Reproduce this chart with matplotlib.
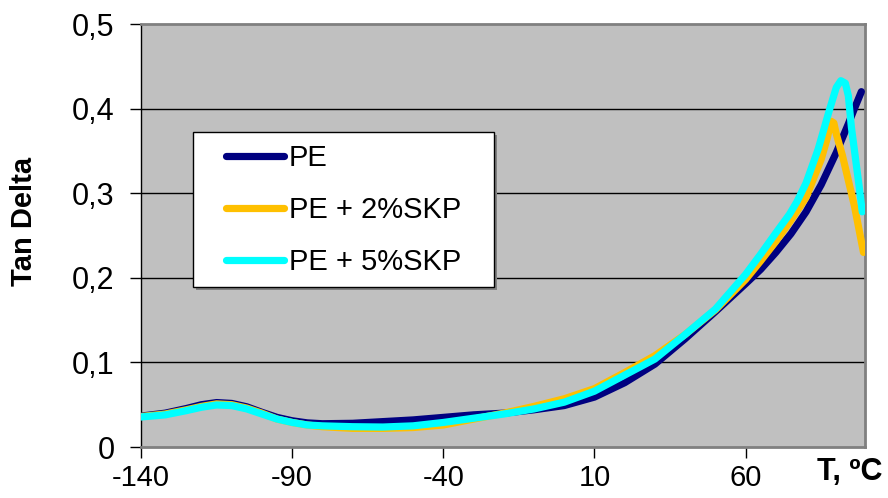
import matplotlib as mpl
mpl.use('Agg')
import matplotlib.pyplot as plt
from matplotlib.patches import Rectangle

plt.rcParams['font.family'] = ['Liberation Sans', 'DejaVu Sans']

# Tan Delta vs temperature
t_pe = [-140, -132, -125, -120, -115, -110, -105, -100, -95, -90, -85, -80, -70, -60,
        -50, -40, -30, -20, -10, 0, 10, 20, 30, 40, 50, 60, 65, 70, 75, 80, 85, 90, 94,
        96, 98.3]
pe = [0.0365, 0.040, 0.0455, 0.050, 0.0525, 0.0515, 0.0475, 0.041, 0.035, 0.031, 0.0285,
      0.0275, 0.028, 0.030, 0.032, 0.035, 0.038, 0.040, 0.044, 0.049, 0.059, 0.076, 0.098,
      0.128, 0.160, 0.193, 0.210, 0.230, 0.252, 0.278, 0.310, 0.348, 0.382, 0.400, 0.420]

t_2 = [-140, -132, -125, -120, -115, -110, -105, -100, -95, -90, -85, -80, -70, -60,
       -50, -40, -30, -20, -10, 0, 10, 20, 30, 40, 50, 60, 65, 70, 75, 80, 85, 87, 88.3,
       89.2, 90, 92, 94, 96, 99]
skp2 = [0.036, 0.039, 0.044, 0.048, 0.051, 0.050, 0.046, 0.040, 0.033, 0.029, 0.026,
        0.024, 0.022, 0.022, 0.023, 0.026, 0.033, 0.040, 0.048, 0.057, 0.069, 0.088,
        0.108, 0.133, 0.162, 0.198, 0.220, 0.243, 0.268, 0.295, 0.340, 0.365, 0.385,
        0.383, 0.370, 0.345, 0.315, 0.285, 0.230]

t_5 = [-140, -132, -125, -120, -115, -110, -105, -100, -95, -90, -85, -80, -70, -60,
       -50, -40, -30, -20, -10, 0, 10, 20, 30, 40, 50, 60, 65, 70, 74.5, 77, 80, 84,
       87.7, 90, 91.5, 93, 94, 95, 97.6, 98.6]
skp5 = [0.0355, 0.038, 0.043, 0.047, 0.0497, 0.049, 0.045, 0.039, 0.033, 0.029, 0.026,
        0.025, 0.024, 0.0236, 0.025, 0.029, 0.034, 0.039, 0.045, 0.053, 0.066, 0.085,
        0.104, 0.133, 0.163, 0.204, 0.228, 0.253, 0.275, 0.290, 0.312, 0.352, 0.398,
        0.425, 0.433, 0.430, 0.415, 0.378, 0.307, 0.278]

labels = ['PE', 'PE + 2%SKP', 'PE + 5%SKP']
colors = ['#000080', '#FFC000', '#00FFFF']
xticks = [-140, -90, -40, 10, 60]
yticks = [0, 0.1, 0.2, 0.3, 0.4, 0.5]

fig = plt.figure(figsize=(8.88, 4.98), dpi=100)
ax = fig.add_axes([0.1588, 0.1024, 0.8153, 0.8494])
ax.set_facecolor('#C0C0C0')

for y in yticks[1:-1]:
    ax.axhline(y, color='black', linewidth=1.0, zorder=1)

for tt, vv, lab, col in zip([t_pe, t_2, t_5], [pe, skp2, skp5], labels, colors):
    ax.plot(tt, vv, color=col, linewidth=5.2, label=lab, solid_capstyle='round',
            solid_joinstyle='round', zorder=3)

ax.set_xlim(-140, 99.5)
ax.set_ylim(0, 0.5)
ax.set_xticks(xticks)
ax.set_xticklabels([str(x) for x in xticks])
ax.set_yticks(yticks)
ax.set_yticklabels(['0' if y == 0 else ('%.1f' % y).replace('.', ',') for y in yticks])
ax.tick_params(axis='both', labelsize=22, length=8, width=1, color='black', direction='out')
ax.tick_params(axis='x', labelsize=21, pad=4)
ax.tick_params(axis='y', pad=11)

for side in ['top', 'right', 'bottom']:
    ax.spines[side].set_color('#808080')
    ax.spines[side].set_linewidth(2)
ax.spines['left'].set_color('black')
ax.spines['left'].set_linewidth(1)

# legend box with shadow
ax.add_patch(Rectangle((0.0760, 0.371), 0.416, 0.367, transform=ax.transAxes,
                       facecolor='#808080', edgecolor='none', zorder=4))
ax.add_patch(Rectangle((0.0718, 0.378), 0.416, 0.367, transform=ax.transAxes,
                       facecolor='white', edgecolor='black', linewidth=1, zorder=5))
leg = ax.legend(loc='center left', bbox_to_anchor=(0.1174, 0.56), frameon=False,
                fontsize=21, borderpad=0, handlelength=2.0, handletextpad=0.15,
                labelspacing=0.82, borderaxespad=0)
leg.set_zorder(6)

fig.text(24 / 888, 1 - 221.5 / 498, 'Tan Delta', rotation=90, ha='center', va='center',
         fontsize=21, fontweight='bold')
fig.text(850 / 888, 1 - 472 / 498, 'T, ºC', ha='center', va='center',
         fontsize=22, fontweight='bold')

plt.savefig('out.png', dpi=100)
